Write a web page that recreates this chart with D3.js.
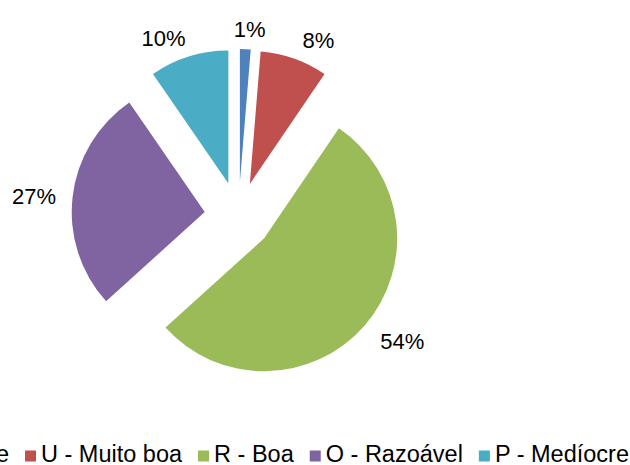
<!DOCTYPE html>
<html lang="pt">
<head>
<meta charset="UTF-8">
<title>Avaliação</title>
<script src="https://cdn.jsdelivr.net/npm/d3@7.8.5/dist/d3.min.js"></script>
<style>
  * { margin: 0; padding: 0; }
  body { background: #fff; width: 630px; height: 465px; overflow: hidden; }
  svg { display: block; font-family: 'Liberation Sans', Arial, sans-serif; }
</style>
</head>
<body>
<div id="chart"></div>
<script>
// dados
const categories = ["E - Excelente", "U - Muito boa", "R - Boa", "O - Razoável", "P - Medíocre"];
const values = [1.3, 8.2, 53.8, 27.1, 9.6];
const colors = ["#4F81BD", "#C0504D", "#9BBB59", "#8064A2", "#4BACC6"];

const width = 630, height = 465;
const cx = 238.5, cy = 216;   // centro da pizza
const radius = 133;
const explode = 34;           // deslocamento das fatias
const labelGap = 15;

const svg = d3.select('#chart').append('svg')
    .attr('width', width)
    .attr('height', height);

const pie = d3.pie().sort(null).value(d => d)(values);
const arc = d3.arc().innerRadius(0).outerRadius(radius);

const total = d3.sum(values);

const slices = svg.selectAll('.slice')
    .data(pie)
    .enter()
    .append('g')
    .attr('class', 'slice')
    .attr('transform', d => {
        const mid = (d.startAngle + d.endAngle) / 2;
        return `translate(${cx + Math.sin(mid) * explode},${cy - Math.cos(mid) * explode})`;
    });

slices.append('path')
    .attr('d', arc)
    .attr('fill', (d, i) => colors[i]);

// rótulos de percentagem (fora da fatia, afastados para os lados no topo)
slices.append('text')
    .attr('font-size', 22)
    .attr('fill', '#000')
    .attr('text-anchor', 'middle')
    .attr('dy', '0.35em')
    .text(d => Math.round(d.value / total * 100) + '%')
    .each(function(d) {
        const mid = (d.startAngle + d.endAngle) / 2;
        const dx = Math.sin(mid), dy = -Math.cos(mid);
        const w = this.getComputedTextLength(), h = 13;
        const r = radius + labelGap;
        const spread = 15 * Math.abs(dy) * Math.sign(dx) * Math.min(1, Math.abs(dx) * 5);
        d3.select(this)
            .attr('x', dx * r + dx * w / 2 + spread)
            .attr('y', dy * r + dy * h / 2 + 2);
    });

// legenda (começa fora da área visível, à esquerda)
const legend = svg.append('g').attr('class', 'legend');
const sq = 11, sqGap = 5, itemGap = 16, secondItemX = 25, baseline = 461.5;

const items = legend.selectAll('.item')
    .data(categories)
    .enter()
    .append('g')
    .attr('class', 'item');

items.append('rect')
    .attr('width', sq)
    .attr('height', sq)
    .attr('y', baseline - sq)
    .attr('fill', (d, i) => colors[i]);

items.append('text')
    .attr('x', sq + sqGap)
    .attr('y', baseline)
    .attr('font-size', 23.5)
    .attr('fill', '#000')
    .text(d => d);

const widths = [];
items.each(function() {
    widths.push(sq + sqGap + d3.select(this).select('text').node().getComputedTextLength());
});
let xPos = secondItemX - widths[0] - itemGap;
items.attr('transform', (d, i) => {
    const t = `translate(${xPos},0)`;
    xPos += widths[i] + itemGap;
    return t;
});
</script>
</body>
</html>
